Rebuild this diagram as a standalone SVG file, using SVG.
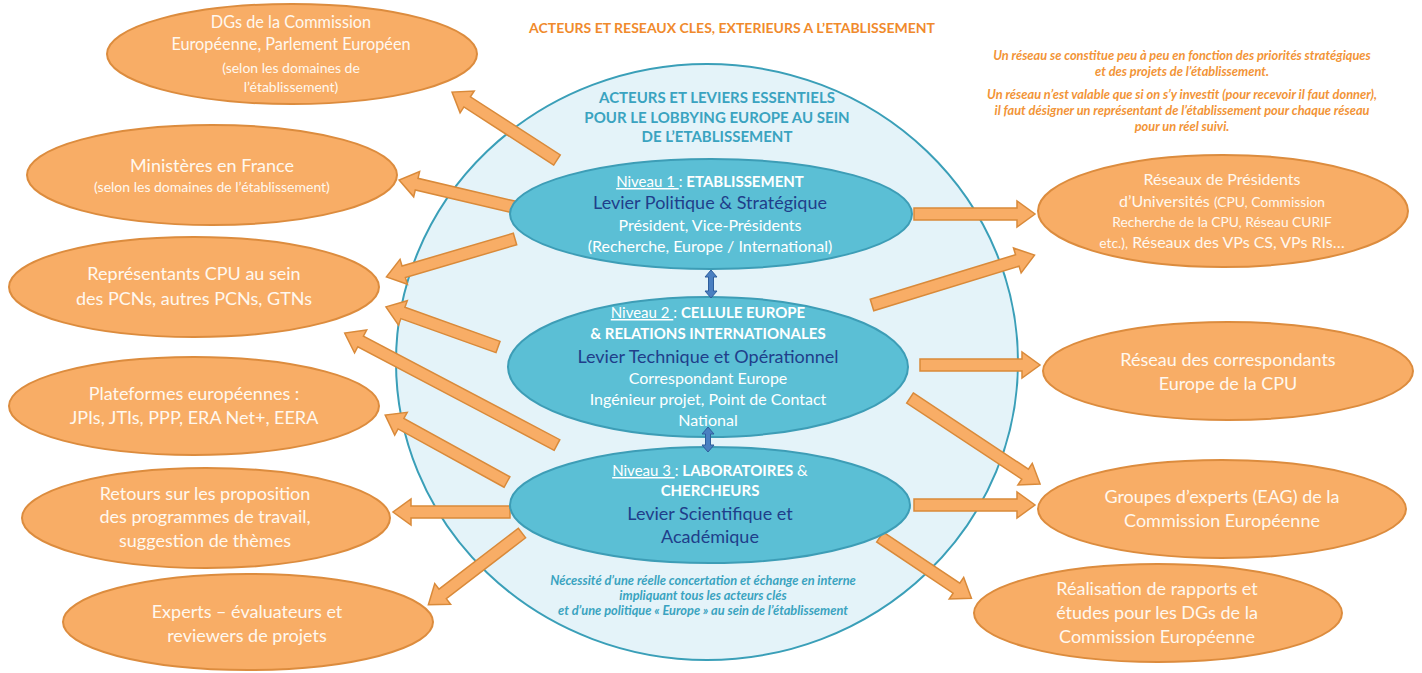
<svg xmlns="http://www.w3.org/2000/svg" width="1422" height="673" viewBox="0 0 1422 673">
<style>
.bg{fill:#ffffff}
.orb{fill:#f8ad66;stroke:#dc8c3e;stroke-width:2}
.big{fill:#e4f3f9;stroke:#3a9fb8;stroke-width:2}
.lvl{fill:#5bbfd5;stroke:#3d9db6;stroke-width:2}
.arr{fill:#f8ad66;stroke:#d98a3a;stroke-width:1.5}
.barr{fill:#4a7fc1;stroke:#2e5e9c;stroke-width:1}
text{font-family:Lato,"Open Sans","Liberation Sans",sans-serif}
.ot{fill:#fff8ef;font-size:18px;text-anchor:middle}
.ots{font-size:14px}
.wt{fill:#ffffff;font-size:16px;text-anchor:middle}
.hd{fill:#ffffff;font-size:15px;text-anchor:middle}
.b{font-weight:bold}
.u{text-decoration:underline}
.dk{fill:#203e8a;font-size:18px;text-anchor:middle}
.ttl{fill:#f08a2c;font-size:14px;font-weight:bold;text-anchor:middle}
.itl{fill:#3aa3c0;font-size:15px;font-weight:bold;text-anchor:middle}
.note{fill:#f29437;font-size:12.8px;font-weight:bold;font-style:italic;text-anchor:middle}
.inote{fill:#3aa3c0;font-size:12.8px;font-weight:bold;font-style:italic;text-anchor:middle}
</style>
<rect class="bg" x="0" y="0" width="1422" height="673"/>

<g id="centre">
<ellipse class="big" cx="707" cy="362" rx="311" ry="298"/>
<text class="itl" x="717" y="103">ACTEURS  ET LEVIERS ESSENTIELS</text>
<text class="itl" x="717" y="123">POUR LE LOBBYING EUROPE AU SEIN</text>
<text class="itl" x="717" y="142">DE L’ETABLISSEMENT</text>
<text class="inote" x="703" y="585">Nécessité d’une réelle concertation et échange en interne</text>
<text class="inote" x="703" y="600">impliquant tous les acteurs clés</text>
<text class="inote" x="703" y="615">et d’une politique « Europe » au sein de l’établissement</text>
</g>

<text id="title" class="ttl" x="732" y="33">ACTEURS ET RESEAUX CLES, EXTERIEURS A L’ETABLISSEMENT</text>
<g id="note">
<text class="note" x="1182" y="60">Un réseau se constitue peu à peu en fonction des priorités stratégiques</text>
<text class="note" x="1182" y="76">et des projets de l’établissement.</text>
<text class="note" x="1182" y="99">Un réseau n’est valable que si on s’y investit (pour recevoir il faut donner),</text>
<text class="note" x="1182" y="115">il faut désigner un représentant de l’établissement pour chaque réseau</text>
<text class="note" x="1182" y="131">pour un réel suivi.</text>
</g>

<g id="connectors">
<path class="arr" transform="translate(557,160) rotate(-147.1)" d="M0,-6 H107 V-13 L125,0 L107,13 V6 H0 Z"/>
<path class="arr" transform="translate(514,207) rotate(-166.8)" d="M0,-6 H100 V-13 L118,0 L100,13 V6 H0 Z"/>
<path class="arr" transform="translate(515,239) rotate(163.6)" d="M0,-6 H116 V-13 L134,0 L116,13 V6 H0 Z"/>
<path class="arr" transform="translate(498,347) rotate(-160.3)" d="M0,-6 H101 V-13 L119,0 L101,13 V6 H0 Z"/>
<path class="arr" transform="translate(557,445) rotate(-152.2)" d="M0,-6 H222 V-13 L240,0 L222,13 V6 H0 Z"/>
<path class="arr" transform="translate(507,482) rotate(-151.2)" d="M0,-6 H121 V-13 L139,0 L121,13 V6 H0 Z"/>
<path class="arr" transform="translate(510,512) rotate(180)" d="M0,-6 H99 V-13 L117,0 L99,13 V6 H0 Z"/>
<path class="arr" transform="translate(522,533) rotate(142.5)" d="M0,-6 H100 V-13 L118,0 L100,13 V6 H0 Z"/>
<path class="arr" transform="translate(914,214)" d="M0,-6 H103 V-13 L121,0 L103,13 V6 H0 Z"/>
<path class="arr" transform="translate(872,305) rotate(-17.05)" d="M0,-6 H152 V-13 L170,0 L152,13 V6 H0 Z"/>
<path class="arr" transform="translate(920,365)" d="M0,-6 H102 V-13 L120,0 L102,13 V6 H0 Z"/>
<path class="arr" transform="translate(910,398) rotate(33.5)" d="M0,-6 H138 V-13 L156,0 L138,13 V6 H0 Z"/>
<path class="arr" transform="translate(914,505)" d="M0,-6 H103 V-13 L121,0 L103,13 V6 H0 Z"/>
<path class="arr" transform="translate(880,537) rotate(33.8)" d="M0,-6 H92 V-13 L110,0 L92,13 V6 H0 Z"/>
</g>

<g id="niveau1">
<ellipse class="lvl" cx="711" cy="214" rx="201" ry="55"/>
<text class="hd" x="710" y="187"><tspan class="u">Niveau 1 </tspan>: <tspan class="b">ETABLISSEMENT</tspan></text>
<text class="dk" x="710" y="209">Levier Politique &amp; Stratégique</text>
<text class="wt" x="710" y="231">Président, Vice-Présidents</text>
<text class="wt" x="710" y="252">(Recherche, Europe / International)</text>
</g>

<g id="niveau2">
<ellipse class="lvl" cx="708" cy="367" rx="200" ry="70"/>
<text class="hd" x="708" y="318"><tspan class="u">Niveau 2 </tspan>: <tspan class="b">CELLULE EUROPE</tspan></text>
<text class="hd b" x="708" y="339">&amp; RELATIONS INTERNATIONALES</text>
<text class="dk" x="708" y="363">Levier Technique et Opérationnel</text>
<text class="wt" x="708" y="384">Correspondant  Europe</text>
<text class="wt" x="708" y="405">Ingénieur projet, Point de Contact</text>
<text class="wt" x="708" y="426">National</text>
</g>

<g id="niveau3">
<ellipse class="lvl" cx="710" cy="505" rx="200" ry="58"/>
<text class="hd" x="710" y="476"><tspan class="u">Niveau 3 </tspan>: <tspan class="b">LABORATOIRES</tspan> &amp;</text>
<text class="hd b" x="710" y="496">CHERCHEURS</text>
<text class="dk" x="710" y="520">Levier Scientifique et</text>
<text class="dk" x="710" y="543">Académique</text>
</g>

<g id="liens-internes">
<path class="barr" d="M711,270 L717,277 H713.5 V291 H717 L711,298 L705,291 H708.5 V277 H705 Z"/>
<path class="barr" d="M708,427 L714,434 H710.5 V445 H714 L708,452 L702,445 H705.5 V434 H702 Z"/>
</g>

<g id="dgs">
<ellipse class="orb" cx="292" cy="54" rx="185" ry="50"/>
<text class="ot" x="291" y="28" style="font-size:16.3px">DGs de la Commission</text>
<text class="ot" x="291" y="50" style="font-size:16.3px">Européenne,  Parlement Européen</text>
<text class="ot ots" x="291" y="73">(selon les domaines  de</text>
<text class="ot ots" x="291" y="92">l’établissement)</text>
</g>

<g id="ministeres">
<ellipse class="orb" cx="212" cy="175" rx="185" ry="50"/>
<text class="ot" x="212" y="172">Ministères en France</text>
<text class="ot ots" x="212" y="192">(selon  les domaines  de l’établissement)</text>
</g>

<g id="representants">
<ellipse class="orb" cx="194" cy="287" rx="185" ry="50"/>
<text class="ot" x="194" y="280">Représentants CPU au sein</text>
<text class="ot" x="194" y="305">des PCNs, autres PCNs, GTNs</text>
</g>

<g id="plateformes">
<ellipse class="orb" cx="194" cy="406" rx="185" ry="49"/>
<text class="ot" x="194" y="400">Plateformes européennes :</text>
<text class="ot" x="194" y="424">JPIs, JTIs, PPP, ERA Net+, EERA</text>
</g>

<g id="retours">
<ellipse class="orb" cx="206" cy="518" rx="184" ry="50"/>
<text class="ot" x="205" y="500">Retours sur les proposition</text>
<text class="ot" x="205" y="523">des programmes de travail,</text>
<text class="ot" x="205" y="547">suggestion de thèmes</text>
</g>

<g id="experts">
<ellipse class="orb" cx="248" cy="622" rx="185" ry="48"/>
<text class="ot" x="247" y="618">Experts – évaluateurs et</text>
<text class="ot" x="247" y="642">reviewers de projets</text>
</g>

<g id="presidents">
<ellipse class="orb" cx="1223" cy="211" rx="185" ry="56"/>
<text class="ot" x="1222" y="185" style="font-size:16px">Réseaux de Présidents</text>
<text class="ot" x="1222" y="207" style="font-size:16px">d’Universités  <tspan style="font-size:13.8px">(CPU, Commission</tspan></text>
<text class="ot" x="1222" y="227" style="font-size:13.8px">Recherche de la CPU, Réseau CURIF</text>
<text class="ot" x="1222" y="248" style="font-size:16px"><tspan style="font-size:13.8px">etc.),</tspan> Réseaux des VPs CS, VPs RIs…</text>
</g>

<g id="correspondants">
<ellipse class="orb" cx="1228" cy="371" rx="185" ry="49"/>
<text class="ot" x="1228" y="366">Réseau des correspondants</text>
<text class="ot" x="1228" y="390">Europe de la CPU</text>
</g>

<g id="groupes">
<ellipse class="orb" cx="1222" cy="509" rx="184" ry="49"/>
<text class="ot" x="1222" y="503">Groupes d’experts (EAG) de la</text>
<text class="ot" x="1222" y="527">Commission Européenne</text>
</g>

<g id="rapports">
<ellipse class="orb" cx="1158" cy="613" rx="184" ry="49"/>
<text class="ot" x="1157" y="595">Réalisation de rapports et</text>
<text class="ot" x="1157" y="619">études pour les DGs de la</text>
<text class="ot" x="1157" y="643">Commission Européenne</text>
</g>
</svg>
